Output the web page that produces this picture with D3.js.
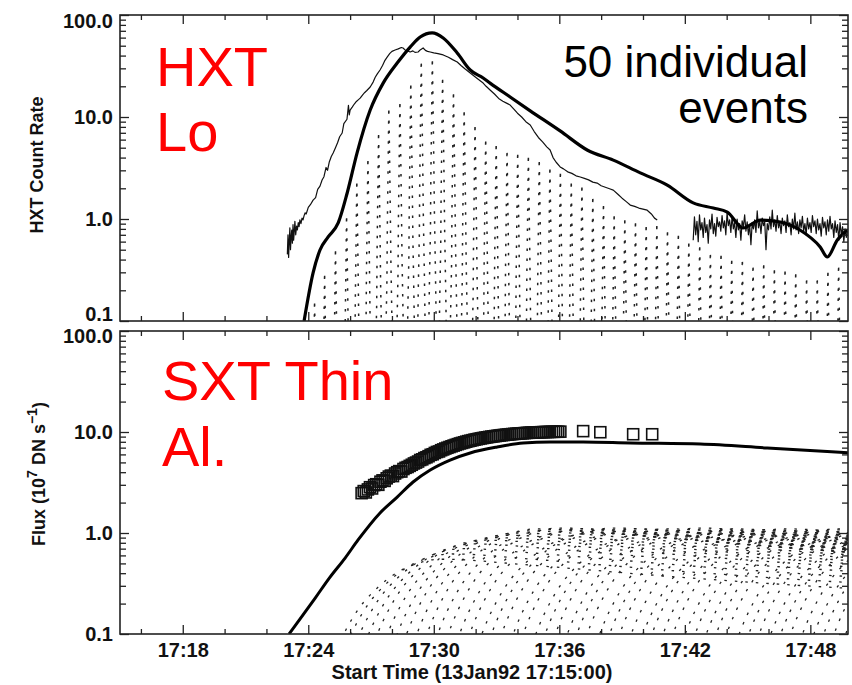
<!DOCTYPE html>
<html>
<head>
<meta charset="utf-8">
<script src="https://cdn.jsdelivr.net/npm/d3@7"></script>
<style>
  body { margin: 0; background: #fff; }
  svg { display: block; }
</style>
</head>
<body>
<svg id="chart" width="852" height="685"></svg>
<script>
// ---------------------------------------------------------------------------
// Data — times are minutes after 17:15:00 UT, 13 Jan 1992
// ---------------------------------------------------------------------------

// Axis tick values
const yMajorTicks = [0.1, 1, 10, 100];
const yMinorTicks = [0.2,0.3,0.4,0.5,0.6,0.7,0.8,0.9, 2,3,4,5,6,7,8,9, 20,30,40,50,60,70,80,90];
const xMajorTicks = [3, 9, 15, 21, 27, 33];
const xMinorTicks = [1, 5, 7, 11, 13, 17, 19, 23, 25, 29, 31];
const xTickLabels = ["17:18", "17:24", "17:30", "17:36", "17:42", "17:48"];

// HXT Lo observed count rate (thin line); null marks a data gap
const hxtObsTime = [
  8.00,8.03,8.06,8.09,8.12,8.15,8.18,8.21,8.24,8.27,8.30,8.33,8.36,8.40,8.44,8.48,8.52,8.56,8.60,8.65,
  8.70,8.75,8.80,8.85,8.90,9.00,9.10,9.23,9.35,9.45,9.56,9.66,9.75,9.85,9.92,10.00,10.10,10.19,10.30,10.40,
  10.50,10.62,10.70,10.85,10.92,10.96,11.00,11.10,11.20,11.30,11.40,11.48,11.60,11.70,11.80,11.96,12.10,12.20,12.30,12.43,
  12.55,12.65,12.77,12.90,13.00,13.15,13.30,13.45,13.53,13.65,13.75,13.87,14.00,14.10,14.25,14.35,14.49,14.60,14.70,14.83,
  15.00,15.20,15.45,15.70,15.90,16.12,16.30,16.50,16.74,17.00,17.20,17.36,17.50,17.69,17.90,18.10,18.30,18.50,18.65,18.85,
  19.00,19.20,19.40,19.61,19.80,20.00,20.20,20.40,20.56,20.70,20.85,21.04,21.20,21.40,21.60,21.80,22.00,22.20,22.40,22.60,
  22.81,23.00,23.20,23.40,23.58,23.80,24.00,24.20,24.39,24.60,24.80,25.00,25.20,25.40,25.55,25.68,26.50,
  27.40,27.46,27.52,27.58,27.64,27.70,27.76,27.82,27.88,27.94,28.00,28.06,28.12,28.18,28.24,28.30,28.36,28.42,28.48,28.54,
  28.60,28.66,28.72,28.78,28.84,28.90,28.96,29.02,29.08,29.14,29.20,29.26,29.32,29.38,29.44,29.50,29.56,29.62,29.68,29.74,
  29.80,29.86,29.92,29.98,30.04,30.10,30.16,30.22,30.28,30.34,30.40,30.46,30.52,30.58,30.64,30.70,30.76,30.82,30.88,30.94,
  31.00,31.06,31.12,31.18,31.24,31.30,31.36,31.42,31.48,31.54,31.60,31.66,31.72,31.78,31.84,31.90,31.96,32.02,32.08,32.14,
  32.20,32.26,32.32,32.38,32.44,32.50,32.56,32.62,32.68,32.74,32.80,32.86,32.92,32.98,33.04,33.10,33.16,33.22,33.28,33.34,
  33.40,33.46,33.52,33.58,33.64,33.70,33.76,33.82,33.88,33.94,34.00,34.06,34.12,34.18,34.24,34.30,34.36,34.42,34.48,34.54,
  34.60,34.66,34.72,34.78
];
const hxtObsRate = [
  0.45,0.70,0.42,0.60,0.82,0.50,0.66,0.78,0.58,0.88,0.62,0.75,0.95,0.70,0.85,0.78,0.92,0.84,0.98,0.90,
  1.02,0.98,1.08,1.15,1.12,1.30,1.38,1.53,1.62,1.95,2.10,2.41,2.60,3.20,3.00,3.60,4.10,4.43,5.00,5.60,
  6.40,6.97,8.60,9.50,13.0,10.5,11.7,12.5,13.4,14.2,14.8,15.3,16.5,17.4,18.2,19.7,22.0,24.5,26.5,28.9,
  32.0,35.5,38.7,42.0,44.0,45.4,46.5,48.0,47.5,45.0,44.5,43.4,44.5,43.0,43.4,45.5,47.5,45.0,44.0,43.4,
  42.5,41.8,40.6,38.5,36.5,34.6,32.0,29.5,27.0,24.5,22.8,21.5,20.0,18.4,16.8,15.2,14.3,13.6,13.1,11.8,
  10.9,10.0,9.0,8.35,7.2,6.3,5.7,5.1,4.75,4.0,3.6,3.24,3.1,2.9,2.8,2.65,2.58,2.5,2.42,2.3,
  2.25,2.12,2.05,1.98,1.92,1.75,1.6,1.48,1.37,1.33,1.28,1.25,1.22,1.12,1.02,0.98,null,
  0.62,1.05,0.70,0.95,0.60,1.10,0.78,0.92,0.66,1.02,0.74,0.88,0.58,0.98,0.80,1.12,0.72,0.90,0.68,1.04,
  0.84,0.94,0.76,1.08,0.82,0.96,0.70,1.15,0.86,0.98,0.74,1.06,0.80,0.92,0.66,1.00,0.78,0.90,0.62,0.96,
  0.84,1.10,0.76,0.94,0.70,0.88,0.56,0.92,0.80,0.98,0.74,1.20,0.82,0.96,0.72,1.02,0.86,0.94,0.50,0.90,
  0.78,1.05,0.80,1.22,0.84,0.98,0.76,1.08,0.82,0.94,0.72,1.02,0.86,0.96,0.74,1.10,0.84,0.92,0.70,1.00,
  0.80,1.14,0.78,0.94,0.72,0.98,0.82,1.06,0.76,0.90,0.70,1.02,0.80,0.92,0.74,1.08,0.84,0.96,0.72,1.00,
  0.78,0.90,0.68,1.04,0.82,0.94,0.70,0.98,0.76,1.06,0.80,0.90,0.66,0.96,0.74,0.88,0.62,0.92,0.70,0.84,
  0.60,0.80,0.66,0.76
];

// HXT Lo model: sum of the individual events (thick line)
const hxtModelTime = [8.80,9.23,9.56,9.95,10.43,10.86,11.33,11.96,12.58,13.25,13.87,14.35,14.92,15.45,16.12,16.74,17.36,17.69,
  18.65,19.61,21.04,22.33,23.58,24.87,26.16,27.40,28.36,29.03,29.79,30.61,31.56,32.50,33.47,33.81,34.29,34.77];
const hxtModelRate = [0.10,0.296,0.497,0.667,0.914,1.80,4.43,11.7,21.5,33.8,48.5,60.8,66.7,59.6,42.4,28.9,24.1,21.5,
  15.7,11.5,7.3,4.75,3.78,2.83,2.15,1.44,1.28,1.17,0.816,0.977,0.935,0.78,0.531,0.424,0.622,0.78];

// SXT Thin Al model flux (thick line), 10^7 DN/s
const sxtModelTime = [8.08,8.61,9.33,10.04,10.76,11.38,12.43,13.25,14.01,14.83,15.78,16.74,18.03,19.27,20.56,22.14,24.39,27.74,30.94,34.91];
const sxtModelFlux = [0.10,0.141,0.227,0.366,0.565,0.853,1.58,2.27,3.20,4.21,5.28,6.20,7.10,7.78,7.96,7.96,7.78,7.60,6.95,6.20];

// SXT Thin Al observed flux (squares)
const sxtObsTime = [
  11.55,11.65,11.75,11.85,11.95,12.05,12.15,12.25,12.35,12.45,12.55,12.65,12.75,12.85,12.95,13.05,13.15,13.25,13.35,13.45,
  13.55,13.65,13.75,13.85,13.95,14.05,14.15,14.25,14.35,14.45,14.55,14.65,14.75,14.85,14.95,15.05,15.15,15.25,15.35,15.45,
  15.55,15.65,15.75,15.85,15.95,16.05,16.15,16.25,16.35,16.45,16.55,16.65,16.75,16.85,16.95,17.05,17.15,17.25,17.35,17.45,
  17.55,17.65,17.75,17.85,17.95,18.05,18.15,18.25,18.35,18.45,18.55,18.65,18.75,18.85,18.95,19.05,19.15,19.25,19.35,19.45,
  19.55,19.65,19.75,19.85,19.95,20.05,20.15,20.25,20.35,20.45,20.55,20.65,20.75,20.85,20.95,21.05,
  22.14,22.96,24.53,25.44
];
const sxtObsFlux = [
  2.48,2.60,2.52,2.70,2.84,2.76,2.98,3.04,3.00,3.22,3.32,3.28,3.48,3.62,3.70,3.66,3.88,4.00,4.10,4.06,
  4.30,4.42,4.50,4.62,4.74,4.88,4.98,5.10,5.28,5.36,5.52,5.62,5.76,5.94,6.02,6.20,6.34,6.42,6.60,6.72,
  6.86,6.98,7.10,7.22,7.34,7.46,7.58,7.70,7.80,7.90,8.02,8.12,8.20,8.30,8.40,8.48,8.56,8.64,8.72,8.80,
  8.86,8.94,9.00,9.06,9.12,9.18,9.24,9.30,9.34,9.40,9.44,9.50,9.54,9.58,9.62,9.66,9.70,9.72,9.76,9.80,
  9.82,9.86,9.88,9.90,9.92,9.94,9.96,9.98,10.0,10.0,10.02,10.04,10.04,10.06,10.06,10.08,
  10.2,9.95,9.5,9.5
];

// The 50 individual events: peak times, HXT peak rates, SXT peak fluxes
const eventTime = [9.30,9.78,10.30,10.83,11.32,11.85,12.36,12.85,13.38,13.90,14.40,14.93,15.42,15.94,16.45,16.97,17.48,17.98,18.50,19.01,
  19.52,20.04,20.55,21.05,21.57,22.08,22.60,23.11,23.62,24.13,24.64,25.15,25.66,26.17,26.69,27.19,27.71,28.22,28.73,29.24,
  29.75,30.26,30.77,31.28,31.79,32.30,32.82,33.33,33.84,34.35];
const eventHxtPeak = [0.16,0.30,0.52,1.10,2.40,4.00,7.20,12.5,14.5,22.0,36.0,38.0,25.0,18.0,12.0,8.6,6.2,5.6,4.8,4.6,
  4.3,3.9,3.3,3.0,2.4,2.2,1.70,1.45,1.15,1.05,0.98,0.90,0.92,0.80,0.74,0.62,0.57,0.48,0.47,0.42,
  0.41,0.36,0.38,0.34,0.33,0.31,0.27,0.27,0.32,0.36];
const eventSxtPeak = [0.55,0.62,0.70,0.78,0.85,0.90,0.95,1.00,1.05,1.10,1.08,1.12,1.05,1.10,1.00,1.08,1.12,1.04,1.10,0.98,
  1.06,1.10,1.02,1.08,1.12,1.00,1.06,1.10,1.04,0.98,1.08,1.05,1.10,1.00,1.06,1.02,1.08,1.10,0.98,1.04,
  1.06,1.00,1.05,1.10,1.02,0.98,1.04,1.06,1.00,1.05];

// Single-event profiles (offset in minutes from event time, fraction of the peak)
const hxtPulseDt   = [-0.24,-0.17,-0.14,-0.09,-0.07,-0.03,0,0.03,0.07,0.10,0.15,0.19,0.27];
const hxtPulseFrac = [0.0004,0.002,0.006,0.02,0.07,0.3,1,0.4,0.1,0.03,0.008,0.002,0.0004];
const sxtPulseDt   = [0,0.5,1,1.5,2,3,4,5,6,7,9,12,16,22,30];
const sxtPulseFrac = [0.02,0.06,0.12,0.2,0.3,0.52,0.75,0.92,1.0,0.99,0.92,0.82,0.70,0.57,0.46];

// ---------------------------------------------------------------------------
// Layout and scales
// ---------------------------------------------------------------------------
const AXIS_FONT = '"Liberation Sans", Arial, Helvetica, sans-serif';
const INK = "#222";
const svg = d3.select("#chart");

const x = d3.scaleLinear().domain([0, 34.8]).range([120, 848]);
const [X0, X1] = x.range();

const panels = [
  { id: "hxt", y: d3.scaleLog().domain([0.1, 100]).range([321, 15]), xLabels: false },
  { id: "sxt", y: d3.scaleLog().domain([0.1, 100]).range([634, 331]), xLabels: true }
];
panels.forEach(p => { p.top = p.y.range()[1]; p.bottom = p.y.range()[0]; });

const defs = svg.append("defs");
panels.forEach(p => {
  defs.append("clipPath").attr("id", "clip-" + p.id)
    .append("rect").attr("x", X0).attr("y", p.top)
    .attr("width", X1 - X0).attr("height", p.bottom - p.top);
});

const pairs = (ts, vs) => ts.map((t, i) => [t, vs[i]]);

// ---------------------------------------------------------------------------
// Top panel: HXT Lo
// ---------------------------------------------------------------------------
const pH = panels[0];
const lineH = d3.line().defined(d => d[1] != null).x(d => x(d[0])).y(d => pH.y(d[1]));
const gH = svg.append("g").attr("clip-path", "url(#clip-hxt)");

// individual event spikes
const hxtEvents = eventTime.map((t0, k) =>
  hxtPulseDt.map((dt, i) => [t0 + dt, eventHxtPeak[k] * hxtPulseFrac[i]]));
gH.selectAll("path.ev").data(hxtEvents).join("path")
  .attr("class", "ev").attr("d", lineH)
  .attr("fill", "none").attr("stroke", "#222")
  .attr("stroke-width", 1.5).attr("stroke-dasharray", "2.5,7.5");

// observed count rate
gH.append("path").attr("d", lineH(pairs(hxtObsTime, hxtObsRate)))
  .attr("fill", "none").attr("stroke", "#111").attr("stroke-width", 1.2)
  .attr("stroke-linejoin", "round");

// model sum
gH.append("path").attr("d", lineH.curve(d3.curveMonotoneX)(pairs(hxtModelTime, hxtModelRate)))
  .attr("fill", "none").attr("stroke", "#000").attr("stroke-width", 3.2)
  .attr("stroke-linejoin", "round");

// ---------------------------------------------------------------------------
// Bottom panel: SXT Thin Al
// ---------------------------------------------------------------------------
const pS = panels[1];
const lineS = d3.line().x(d => x(d[0])).y(d => pS.y(d[1])).curve(d3.curveMonotoneX);
const gS = svg.append("g").attr("clip-path", "url(#clip-sxt)");

const sxtEvents = eventTime.map((t0, k) =>
  sxtPulseDt.map((dt, i) => [t0 + dt, eventSxtPeak[k] * sxtPulseFrac[i]]));
gS.selectAll("path.ev").data(sxtEvents).join("path")
  .attr("class", "ev").attr("d", lineS)
  .attr("fill", "none").attr("stroke", "#222")
  .attr("stroke-width", 1.3).attr("stroke-dasharray", "2.5,8");

gS.append("path").attr("d", lineS(pairs(sxtModelTime, sxtModelFlux)))
  .attr("fill", "none").attr("stroke", "#000").attr("stroke-width", 3);

const SQ = 11;
gS.selectAll("rect.obs").data(pairs(sxtObsTime, sxtObsFlux)).join("rect")
  .attr("class", "obs")
  .attr("x", d => x(d[0]) - SQ / 2).attr("y", d => pS.y(d[1]) - SQ / 2)
  .attr("width", SQ).attr("height", SQ)
  .attr("fill", "none").attr("stroke", "#111").attr("stroke-width", 1.6);

// ---------------------------------------------------------------------------
// Frames and axes
// ---------------------------------------------------------------------------
function styleAxis(g) {
  g.select(".domain").remove();
  g.attr("color", INK).attr("font-family", AXIS_FONT)
   .attr("font-size", 20).attr("font-weight", "bold");
  g.selectAll("line").attr("stroke-width", 1.3);
  g.selectAll("text").attr("fill", "#111");
}

panels.forEach((p, pi) => {
  const g = svg.append("g").attr("class", "axes-" + p.id);

  // y axes, ticks pointing inward on both sides
  const yLabelShift = pi === 0 ? { 100: 6, 0.1: -7 } : { 100: 5 };
  g.append("g").attr("transform", `translate(${X0},0)`)
    .call(d3.axisLeft(p.y).tickValues(yMajorTicks).tickSize(-9).tickPadding(7)
      .tickFormat(v => v.toFixed(1)))
    .call(styleAxis)
    .call(a => a.selectAll(".tick text").attr("y", v => yLabelShift[v] || 0));
  g.append("g").attr("transform", `translate(${X0},0)`)
    .call(d3.axisLeft(p.y).tickValues(yMinorTicks).tickSize(-6).tickFormat(""))
    .call(styleAxis);
  g.append("g").attr("transform", `translate(${X1},0)`)
    .call(d3.axisRight(p.y).tickValues(yMajorTicks).tickSize(-9).tickFormat(""))
    .call(styleAxis);
  g.append("g").attr("transform", `translate(${X1},0)`)
    .call(d3.axisRight(p.y).tickValues(yMinorTicks).tickSize(-6).tickFormat(""))
    .call(styleAxis);

  // x axes on top and bottom edges
  g.append("g").attr("transform", `translate(0,${p.top})`)
    .call(d3.axisTop(x).tickValues(xMajorTicks).tickSize(-9).tickFormat(""))
    .call(styleAxis);
  g.append("g").attr("transform", `translate(0,${p.top})`)
    .call(d3.axisTop(x).tickValues(xMinorTicks).tickSize(-5).tickFormat(""))
    .call(styleAxis);
  g.append("g").attr("transform", `translate(0,${p.bottom})`)
    .call(d3.axisBottom(x).tickValues(xMajorTicks).tickSize(-9).tickPadding(9)
      .tickFormat((t, i) => p.xLabels ? xTickLabels[i] : ""))
    .call(styleAxis);
  g.append("g").attr("transform", `translate(0,${p.bottom})`)
    .call(d3.axisBottom(x).tickValues(xMinorTicks).tickSize(-5).tickFormat(""))
    .call(styleAxis);

  g.append("rect").attr("x", X0).attr("y", p.top)
    .attr("width", X1 - X0).attr("height", p.bottom - p.top)
    .attr("fill", "none").attr("stroke", INK).attr("stroke-width", 1.6);
});

// axis titles
svg.append("text")
  .attr("transform", "translate(43,165) rotate(-90)")
  .attr("text-anchor", "middle").attr("font-family", AXIS_FONT)
  .attr("font-size", 18).attr("font-weight", "bold").attr("fill", "#111")
  .text("HXT Count Rate");

const fluxTitle = svg.append("text")
  .attr("transform", "translate(45,474) rotate(-90)")
  .attr("text-anchor", "middle").attr("font-family", AXIS_FONT)
  .attr("font-size", 18).attr("font-weight", "bold").attr("fill", "#111");
fluxTitle.append("tspan").text("Flux (10");
fluxTitle.append("tspan").attr("baseline-shift", "super").attr("font-size", 14).text("7");
fluxTitle.append("tspan").text(" DN s");
fluxTitle.append("tspan").attr("baseline-shift", "super").attr("font-size", 14).text("\u22121");
fluxTitle.append("tspan").text(")");

svg.append("text")
  .attr("x", 472).attr("y", 679)
  .attr("text-anchor", "middle").attr("font-family", AXIS_FONT)
  .attr("font-size", 20).attr("font-weight", "bold").attr("fill", "#111")
  .text("Start Time (13Jan92 17:15:00)");

// ---------------------------------------------------------------------------
// Panel annotations
// ---------------------------------------------------------------------------
const NOTE_FONT = '"Liberation Sans", Arial, Helvetica, sans-serif';
const redNotes = [
  { text: "HXT", x: 156, y: 86 },
  { text: "Lo", x: 156, y: 151 },
  { text: "SXT Thin", x: 162, y: 400 },
  { text: "Al.", x: 162, y: 466 }
];
svg.selectAll("text.note").data(redNotes).join("text")
  .attr("class", "note")
  .attr("x", d => d.x).attr("y", d => d.y)
  .attr("font-family", NOTE_FONT).attr("font-size", 56)
  .attr("fill", "#ff0000").text(d => d.text);

const blackNotes = [
  { text: "50 individual", y: 77 },
  { text: "events", y: 123 }
];
svg.selectAll("text.count").data(blackNotes).join("text")
  .attr("class", "count")
  .attr("x", 808).attr("y", d => d.y).attr("text-anchor", "end")
  .attr("font-family", NOTE_FONT).attr("font-size", 44)
  .attr("fill", "#000").text(d => d.text);
</script>
</body>
</html>
